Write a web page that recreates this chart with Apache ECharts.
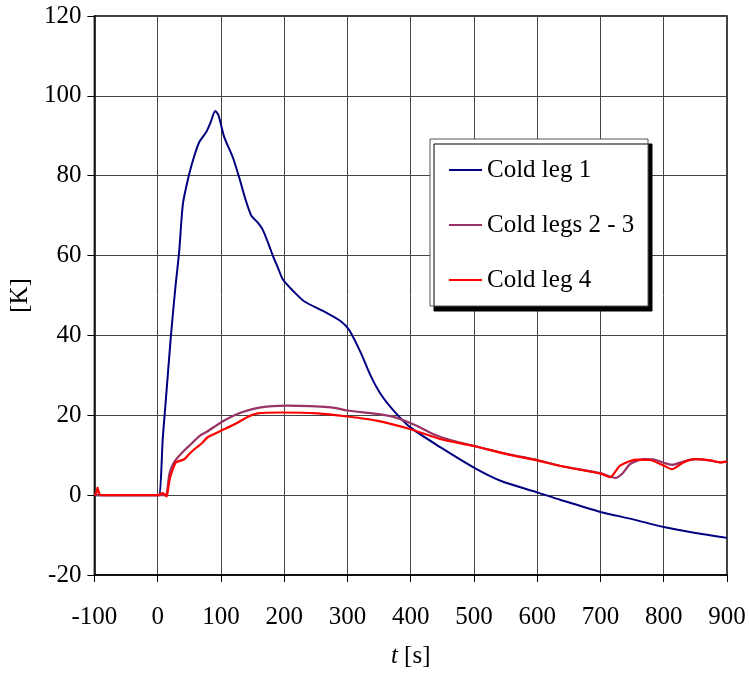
<!DOCTYPE html>
<html>
<head>
<meta charset="utf-8">
<script src="https://cdn.jsdelivr.net/npm/echarts@6/dist/echarts.min.js"></script>
<style>html,body{margin:0;padding:0;background:#fff}#c{width:749px;height:674px}</style>
</head>
<body>
<div id="c"></div>
<script>
const xTicks = [-100, 0, 100, 200, 300, 400, 500, 600, 700, 800, 900];
const yTicks = [-20, 0, 20, 40, 60, 80, 100, 120];
const seriesNames = ['Cold leg 1', 'Cold legs 2 - 3', 'Cold leg 4'];

const coldLeg1 = [[-100,0],[0,0],[3,0],[8,14],[13,24],[21,40],[28,52],[34,61],[40,73],[50,80.5],[58,85],[66,88.5],[77,91],[84,93.5],[91,96.2],[96,95.2],[105,89.8],[119,84.5],[129,79.5],[138,74.5],[148,70],[157,68.5],[166,66.5],[175,63],[182,60],[190,57],[198,54],[215,51],[232,48.5],[263,46],[290,43.5],[303,41.3],[321,35.7],[337,29.8],[353,25.2],[374,21],[400,16.9],[448,11.9],[500,6.9],[542,3.6],[600,0.7],[637,-1.2],[700,-4.2],[750,-6],[800,-8],[850,-9.5],[900,-10.7]];

const coldLegs23 = [[-100,0],[0,0],[13,0],[15,1],[18.8,5.5],[25,8],[32,9.5],[42,11.2],[53,12.8],[66,14.8],[79,16],[100,18.2],[115,19.5],[132,20.7],[163,22],[205,22.4],[274,22],[300,21.2],[368,19.8],[405,17.7],[437,15.2],[463,13.8],[500,12.3],[553,10.3],[600,8.8],[637,7.3],[700,5.5],[724,4.3],[735,5.5],[747,7.8],[768,9],[785,8.9],[800,8.1],[813,7.6],[831,8.4],[850,9],[873,8.7],[889,8.2],[900,8.4]];

const coldLeg4 = [[-100,0],[-97,0.5],[-95,1.9],[-92,0.3],[-88,0],[0,0],[8,0.5],[14,-0.3],[16,1],[19,4],[24,6.5],[29,8.2],[42,9],[50,10.3],[58,11.5],[70,13],[79,14.5],[100,16.1],[127,18.2],[142,19.6],[158,20.5],[195,20.7],[253,20.5],[300,19.7],[348,18.6],[400,16.5],[448,14],[500,12.3],[553,10.2],[600,8.7],[637,7.3],[700,5.4],[715,4.5],[731,7.4],[757,8.9],[778,8.8],[800,7.4],[813,6.5],[831,8.2],[850,9],[873,8.7],[889,8.2],[900,8.4]];

const colors = ['#000080', '#993366', '#FF0000'];
const FONT = "'Liberation Serif', 'Times New Roman', serif";

const chart = echarts.init(document.getElementById('c'), null, {renderer: 'canvas'});
chart.setOption({
  animation: false,
  backgroundColor: '#fff',
  color: colors,
  textStyle: {fontFamily: FONT, color: '#000'},
  grid: {left: 93, right: 22, top: 16, bottom: 98, show: true, borderColor: '#000', borderWidth: 1.5, containLabel: false},
  graphic: [{
    type: 'rect', z: 3,
    shape: {x: 430, y: 139, width: 218, height: 167},
    style: {fill: '#fff', stroke: '#555', lineWidth: 1, shadowColor: '#000', shadowBlur: 0, shadowOffsetX: 4, shadowOffsetY: 5}
  }],
  legend: {
    z: 4,
    orient: 'vertical', left: 449, top: 155,
    data: seriesNames,
    icon: 'rect', itemWidth: 33, itemHeight: 2, itemGap: 25,
    padding: 0,
    textStyle: {fontFamily: FONT, fontSize: 25, color: '#000', lineHeight: 30}
  },
  xAxis: {
    type: 'value', min: xTicks[0], max: xTicks[xTicks.length-1], interval: 100,
    name: '{i|t} [s]', nameLocation: 'middle', nameGap: 69,
    nameTextStyle: {fontFamily: FONT, fontSize: 25, color: '#000',
      rich: {i: {fontFamily: FONT, fontSize: 25, fontStyle: 'italic', color: '#000'}}},
    axisLine: {show: true, onZero: false, lineStyle: {color: '#000', width: 1.5}},
    axisTick: {show: true, inside: false, length: 7, lineStyle: {color: '#000'}},
    axisLabel: {fontFamily: FONT, fontSize: 25, color: '#000', margin: 30},
    splitLine: {show: true, lineStyle: {color: '#444', width: 1}}
  },
  yAxis: {
    type: 'value', min: yTicks[0], max: yTicks[yTicks.length-1], interval: 20,
    name: '[K]', nameLocation: 'middle', nameGap: 56, nameRotate: 90,
    nameTextStyle: {fontFamily: FONT, fontSize: 25, color: '#000'},
    axisLine: {show: true, onZero: false, lineStyle: {color: '#000', width: 1.5}},
    axisTick: {show: true, inside: false, length: 7, lineStyle: {color: '#000'}},
    axisLabel: {fontFamily: FONT, fontSize: 25, color: '#000', margin: 13},
    splitLine: {show: true, lineStyle: {color: '#444', width: 1}}
  },
  series: [
    {name: seriesNames[0], type: 'line', data: coldLeg1, showSymbol: false, symbol: 'none', smooth: 0.25, lineStyle: {width: 2, color: colors[0]}, z: 2},
    {name: seriesNames[1], type: 'line', data: coldLegs23, showSymbol: false, symbol: 'none', smooth: 0.25, lineStyle: {width: 2.2, color: colors[1]}, z: 2},
    {name: seriesNames[2], type: 'line', data: coldLeg4, showSymbol: false, symbol: 'none', smooth: 0.25, lineStyle: {width: 2.2, color: colors[2]}, z: 2}
  ]
});
</script>
</body>
</html>
